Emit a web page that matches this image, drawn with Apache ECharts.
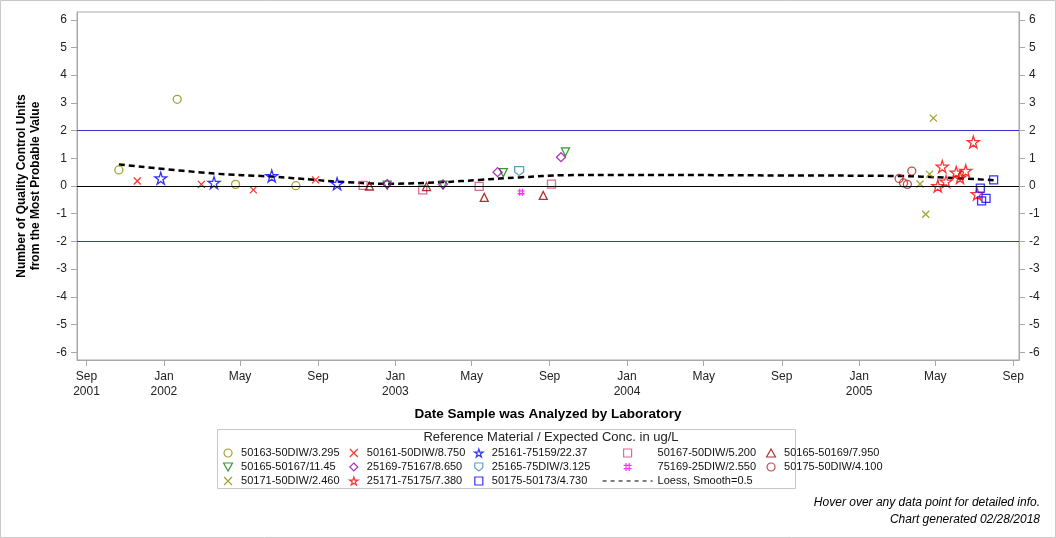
<!DOCTYPE html>
<html>
<head>
<meta charset="utf-8">
<script src="https://cdn.jsdelivr.net/npm/echarts@6/dist/echarts.min.js"></script>
<style>
  html, body { margin: 0; padding: 0; background: #fff; }
  #main { width: 1056px; height: 538px; }
</style>
</head>
<body>
<div id="main"></div>
<script>
// x axis ticks
var tickDates = ['2001-09-01', '2002-01-01', '2002-05-01', '2002-09-01', '2003-01-01', '2003-05-01',
  '2003-09-01', '2004-01-01', '2004-05-01', '2004-09-01', '2005-01-01', '2005-05-01', '2005-09-01'];
var tickLabels = ['Sep\n2001', 'Jan\n2002', 'May', 'Sep', 'Jan\n2003', 'May',
  'Sep', 'Jan\n2004', 'May', 'Sep', 'Jan\n2005', 'May', 'Sep'];
var yTicks = [-6, -5, -4, -3, -2, -1, 0, 1, 2, 3, 4, 5, 6];
var upperLimit = [2];
var lowerLimit = [-2];
var zeroLine = [0];

// data per reference material [date, units]
var m50163_50DIW = [['2001-10-22', 0.58], ['2002-01-22', 3.13], ['2002-04-24', 0.06], ['2002-07-28', 0.01]];
var m50161_50DIW = [['2001-11-20', 0.18], ['2002-03-01', 0.06], ['2002-05-22', -0.14], ['2002-08-28', 0.22]];
var m25161_75159 = [['2001-12-27', 0.28], ['2002-03-21', 0.12], ['2002-06-20', 0.36], ['2002-10-01', 0.08]];
var m50167_50DIW = [['2002-11-11', 0.02], ['2003-02-13', -0.14], ['2003-05-13', -0.01], ['2003-09-04', 0.07]];
var m50165_50169 = [['2002-11-21', 0.0], ['2003-02-19', -0.02], ['2003-05-21', -0.41], ['2003-08-22', -0.34]];
var m50165_50167 = [['2002-12-19', 0.03], ['2003-03-17', 0.03], ['2003-06-20', 0.48], ['2003-09-26', 1.23]];
var m25169_75167 = [['2002-12-19', 0.07], ['2003-03-17', 0.06], ['2003-06-11', 0.5], ['2003-09-19', 1.04]];
var m25165_75DIW = [['2003-07-15', 0.54]];
var m75169_25DIW = [['2003-07-18', -0.23]];
var m50175_50DIW = [['2005-03-05', 0.27], ['2005-03-12', 0.11], ['2005-03-18', 0.06], ['2005-03-25', 0.54]];
var m50171_50DIW = [['2005-04-07', 0.07], ['2005-04-16', -1.02], ['2005-04-22', 0.43], ['2005-04-28', 2.45]];
var m25171_75175 = [['2005-05-05', 0.0], ['2005-05-12', 0.7], ['2005-05-18', 0.16], ['2005-06-03', 0.49],
  ['2005-06-09', 0.31], ['2005-06-18', 0.55], ['2005-06-30', 1.59], ['2005-07-06', -0.29]];
var m50175_50173 = [['2005-07-11', -0.08], ['2005-07-13', -0.54], ['2005-07-20', -0.45], ['2005-08-01', 0.22]];
var loess = [['2001-10-22', 0.78], ['2002-03-21', 0.45], ['2002-06-20', 0.34], ['2002-08-28', 0.22],
  ['2002-10-01', 0.16], ['2002-12-19', 0.08], ['2003-03-17', 0.14], ['2003-05-13', 0.22],
  ['2003-07-15', 0.31], ['2003-09-26', 0.39], ['2004-01-01', 0.40], ['2004-09-01', 0.38],
  ['2005-03-05', 0.36], ['2005-05-18', 0.30], ['2005-08-01', 0.21]];

var toTs = function(s) {
  var p = s.split('-');
  return new Date(+p[0], +p[1] - 1, +p[2]).getTime();
};
var tickTs = tickDates.map(toTs);
var conv = function(arr) {
  return arr.map(function(d) { return [toTs(d[0]), d[1]]; });
};

var SYM = {
  x: 'path://M0,0L10,10M10,0L0,10',
  star: 'path://M50,0L61,35L98,35L68,57L79,91L50,70L21,91L32,57L2,35L39,35Z',
  down: 'path://M0,0L10,0L5,9Z',
  up: 'path://M5,0L10,9L0,9Z',
  shield: 'path://M0,0L10,0L10,6L5,10L0,6Z',
  hash: 'path://M3,0L3,10M7,0L7,10M0,3L10,3M0,7L10,7',
  square: 'path://M0,0L10,0L10,10L0,10Z',
  diamond: 'path://M5,0L10,5L5,10L0,5Z'
};

// an empty series that only carries a horizontal reference line
var refSeries = function(values, color) {
  return {
    type: 'line',
    data: [],
    silent: true,
    z: 1,
    markLine: {
      silent: true,
      symbol: 'none',
      label: { show: false },
      lineStyle: { color: color, width: 1, type: 'solid', opacity: 1 },
      emphasis: { disabled: true },
      data: values.map(function(v) { return { yAxis: v }; })
    }
  };
};

var mk = function(name, data, symbol, size, color) {
  return {
    name: name,
    type: 'scatter',
    data: conv(data),
    symbol: symbol,
    symbolSize: size,
    itemStyle: { color: 'rgba(0,0,0,0)', borderColor: color, borderWidth: 1.3 },
    z: 3
  };
};

var font = 'Arial, "Liberation Sans", sans-serif';
var axisGray = '#a8a8a8';

var myChart = echarts.init(document.getElementById('main'));
var series = [
  refSeries(upperLimit, '#3535d0'),
  refSeries(lowerLimit, '#3535d0'),
  refSeries(zeroLine, '#000000'),
  mk('50163-50DIW/3.295', m50163_50DIW, 'circle', 8, '#8c8c00'),
  mk('50161-50DIW/8.750', m50161_50DIW, SYM.x, 7, '#ff0000'),
  mk('25161-75159/22.37', m25161_75159, SYM.star, 12, '#0000ff'),
  mk('50167-50DIW/5.200', m50167_50DIW, SYM.square, 8, '#d9457a'),
  mk('50165-50169/7.950', m50165_50169, SYM.up, 8, '#990000'),
  mk('50165-50167/11.45', m50165_50167, SYM.down, 8, '#008000'),
  mk('25169-75167/8.650', m25169_75167, SYM.diamond, 9, '#9900aa'),
  mk('25165-75DIW/3.125', m25165_75DIW, SYM.shield, 9, '#3388bb'),
  mk('75169-25DIW/2.550', m75169_25DIW, SYM.hash, 7, '#ff00ff'),
  mk('50175-50DIW/4.100', m50175_50DIW, 'circle', 8, '#b22222'),
  mk('50171-50DIW/2.460', m50171_50DIW, SYM.x, 7, '#8c8c00'),
  mk('25171-75175/7.380', m25171_75175, SYM.star, 12, '#ff0000'),
  mk('50175-50173/4.730', m50175_50173, SYM.square, 8, '#0000ff'),
  {
    name: 'Loess, Smooth=0.5',
    type: 'line',
    data: conv(loess),
    smooth: 0.4,
    symbol: 'none',
    showSymbol: false,
    lineStyle: { color: '#000', width: 2.5, type: [6, 4] },
    itemStyle: { color: '#000' },
    z: 2
  }
];

var legendCol = function(left, names, w) {
  return {
    orient: 'vertical',
    left: left,
    top: 446,
    padding: 0,
    itemGap: 0,
    itemWidth: w,
    itemHeight: 8,
    data: names.map(function(n) {
      if (n.indexOf('Loess') === 0) {
        return { name: n, itemStyle: { opacity: 0 }, lineStyle: { width: 1.2, type: [4, 4] } };
      }
      return n;
    }),
    selectedMode: false,
    itemStyle: { borderWidth: 1.2 },
    textStyle: { fontFamily: font, fontSize: 11, color: '#111', lineHeight: 14 }
  };
};

var option = {
  animation: false,
  textStyle: { fontFamily: font },
  grid: {
    left: 77, right: 37, top: 12, bottom: 178,
    show: true, borderColor: axisGray, borderWidth: 1
  },
  xAxis: {
    type: 'value',
    min: toTs('2001-08-17'),
    max: toTs('2005-09-10'),
    name: 'Date Sample was Analyzed by Laboratory',
    nameLocation: 'middle',
    nameGap: 47,
    nameTextStyle: { fontFamily: font, fontSize: 13.5, fontWeight: 'bold', color: '#000' },
    axisLine: { show: true, onZero: false, lineStyle: { color: axisGray } },
    axisTick: { show: true, length: 6, customValues: tickTs, lineStyle: { color: axisGray } },
    axisLabel: {
      customValues: tickTs,
      margin: 9,
      fontSize: 12,
      lineHeight: 15,
      color: '#222',
      formatter: function(v) {
        var i = tickTs.indexOf(v);
        return i >= 0 ? tickLabels[i] : '';
      }
    },
    splitLine: { show: false }
  },
  yAxis: [{
    type: 'value',
    min: -6.28, max: 6.28,
    position: 'left',
    name: 'Number of Quality Control Units\nfrom the Most Probable Value',
    nameLocation: 'middle',
    nameGap: 34,
    nameTextStyle: { fontFamily: font, fontSize: 12, fontWeight: 'bold', color: '#000', lineHeight: 14 },
    axisLine: { show: true, onZero: false, lineStyle: { color: axisGray } },
    axisTick: { show: true, length: 6, customValues: yTicks, lineStyle: { color: axisGray } },
    axisLabel: { customValues: yTicks, margin: 10, fontSize: 12, color: '#222' },
    splitLine: { show: false }
  }, {
    type: 'value',
    min: -6.28, max: 6.28,
    position: 'right',
    axisLine: { show: true, onZero: false, lineStyle: { color: axisGray } },
    axisTick: { show: true, length: 6, customValues: yTicks, lineStyle: { color: axisGray } },
    axisLabel: { customValues: yTicks, margin: 10, fontSize: 12, color: '#222' },
    splitLine: { show: false }
  }],
  legend: [
    legendCol(223, ['50163-50DIW/3.295', '50165-50167/11.45', '50171-50DIW/2.460'], 16),
    legendCol(349, ['50161-50DIW/8.750', '25169-75167/8.650', '25171-75175/7.380'], 16),
    legendCol(474, ['25161-75159/22.37', '25165-75DIW/3.125', '50175-50173/4.730'], 16),
    legendCol(602, ['50167-50DIW/5.200', '75169-25DIW/2.550', 'Loess, Smooth=0.5'], 50),
    legendCol(766, ['50165-50169/7.950', '50175-50DIW/4.100'], 16)
  ],
  graphic: [
    { type: 'rect', shape: { x: 0.5, y: 0.5, width: 1055, height: 537 },
      style: { fill: 'none', stroke: '#c8c8c8', lineWidth: 1 }, silent: true },
    { type: 'rect', shape: { x: 217.5, y: 429.5, width: 578, height: 59 },
      style: { fill: 'none', stroke: '#c8c8c8', lineWidth: 1 }, silent: true },
    { type: 'text', x: 551, y: 437,
      style: { text: 'Reference Material / Expected Conc. in ug/L', font: '13px ' + font,
        fill: '#222', textAlign: 'center', textVerticalAlign: 'middle' } },
    { type: 'text', x: 1040, y: 503,
      style: { text: 'Hover over any data point for detailed info.', font: 'italic 12px ' + font,
        fill: '#000', textAlign: 'right', textVerticalAlign: 'middle' } },
    { type: 'text', x: 1040, y: 520,
      style: { text: 'Chart generated 02/28/2018', font: 'italic 12px ' + font,
        fill: '#000', textAlign: 'right', textVerticalAlign: 'middle' } }
  ],
  series: series
};
myChart.setOption(option);
</script>
</body>
</html>
